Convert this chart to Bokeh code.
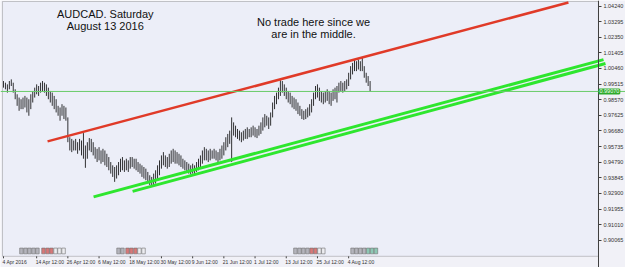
from bokeh.plotting import figure
from bokeh.models import (Range1d, FixedTicker, PrintfTickFormatter, Span, Label, LabelSet,
                          LinearAxis, BoxAnnotation, ColumnDataSource)
from bokeh.embed import file_html
from bokeh.resources import INLINE
from bokeh.core.properties import value

# H12 bars, AUDCAD 4 Apr 2016 - 12 Aug 2016
bar_high = [
    .997, .996, .995, .997, .998, .996, .992, .989, .987, .986,
    .987, .988, .987, .986, .989, .991, .993, .995, .994, .996,
    .997, .996, .995, .993, .991, .990, .988, .986, .982, .981,
    .983, .982, .981, .975, .963, .962, .961, .962, .960, .962,
    .961, .9655, .958, .960, .9625, .962, .960, .957, .956, .957,
    .955, .956, .955, .953, .951, .948, .946, .945, .946, .948,
    .950, .951, .949, .950, .949, .951, .951, .950, .950, .948,
    .947, .946, .945, .944, .942, .940, .939, .941, .943, .946,
    .949, .952, .954, .952, .951, .953, .955, .956, .955, .954,
    .953, .952, .950, .949, .948, .947, .946, .947, .946, .948,
    .950, .952, .955, .957, .956, .955, .956, .955, .956, .955,
    .954, .956, .958, .960, .963, .965, .967, .975, .972, .970,
    .968, .967, .966, .967, .968, .969, .968, .969, .970, .969,
    .968, .970, .972, .975, .977, .976, .975, .978, .984, .988,
    .990, .993, .9975, .997, .995, .993, .991, .990, .988, .987,
    .986, .984, .982, .980, .979, .980, .981, .983, .986, .990,
    .994, .995, .993, .991, .990, .991, .992, .991, .990, .992,
    .993, .994, .996, .997, .996, .997, .998, 1.002, 1.006, 1.008,
    1.010, 1.009, 1.010, 1.009, 1.011, 1.006, 1.002, 1.000, .997,
]
bar_low = [
    .993, .992, .990, .992, .994, .990, .986, .982, .979, .980,
    .980, .981, .978, .976, .980, .984, .987, .989, .988, .990,
    .991, .990, .988, .986, .984, .982, .980, .978, .976, .973,
    .976, .974, .973, .960, .955, .954, .955, .955, .953, .955,
    .952, .950, .9445, .950, .955, .954, .952, .950, .948, .949,
    .947, .948, .946, .945, .943, .941, .939, .936, .938, .940,
    .942, .943, .942, .943, .942, .944, .945, .944, .943, .942,
    .941, .939, .938, .937, .935, .934, .9335, .934, .935, .937,
    .940, .944, .946, .945, .944, .945, .947, .948, .947, .947,
    .946, .945, .944, .943, .942, .941, .9405, .941, .9405, .942,
    .943, .945, .947, .949, .949, .948, .949, .950, .950, .949,
    .948, .949, .950, .952, .955, .957, .959, .948, .964, .963,
    .962, .961, .960, .961, .962, .962, .963, .963, .964, .963,
    .9625, .964, .965, .967, .969, .970, .968, .970, .975, .980,
    .983, .986, .988, .990, .988, .986, .984, .983, .981, .980,
    .979, .977, .976, .974, .9735, .974, .975, .976, .978, .982,
    .986, .987, .985, .984, .983, .984, .985, .983, .982, .985,
    .986, .984, .990, .991, .990, .991, .992, .994, .998, 1.001,
    1.003, 1.003, 1.004, 1.003, 1.003, .999, .996, .994, .9907,
]
bar_index = list(range(len(bar_high)))

last_price = 0.99070
last_price_text = "0.99070"

y_tick_values = [1.04240, 1.03295, 1.02350, 1.01405, 1.00460, 0.99515, 0.98570,
                 0.97625, 0.96680, 0.95735, 0.94790, 0.93845, 0.92900, 0.91955,
                 0.91010, 0.90065]

x_tick_bars = [0, 17, 33, 49, 65, 81, 97, 113, 129, 145, 161, 177]
x_tick_labels = ["4 Apr 2016", "14 Apr 12:00", "26 Apr 12:00", "6 May 12:00",
                 "18 May 12:00", "30 May 12:00", "9 Jun 12:00", "21 Jun 12:00",
                 "1 Jul 12:00", "13 Jul 12:00", "25 Jul 12:00", "4 Aug 12:00"]

# trend lines (anchor points: bar index, price)
red_line_x = [22.6, 289.7]
red_line_y = [0.96048, 1.04452]
green_upper_x = [46.2, 307.7]
green_upper_y = [0.92692, 1.00995]
green_lower_x = [66.2, 308.7]
green_lower_y = [0.93025, 1.00764]

# event flags along the bottom
event_bars = [9.2, 11.3, 13.3, 15.4, 17.4, 20.5, 22.6, 24.6, 26.7, 28.7, 30.8,
              59, 61, 63.6, 65.6, 67.7, 69.7, 71.8,
              149.7, 151.8, 153.8, 155.9, 158, 160, 162, 164,
              179, 181, 183, 185, 187, 189, 191]
event_kind = ["g", "g", "g", "g", "g", "r", "r", "r", "w", "w", "w",
              "g", "g", "r", "r", "r", "w", "w",
              "g", "g", "g", "g", "r", "r", "w", "w",
              "g", "g", "g", "g", "t", "t", "t"]
kind_colors = {"g": "#b4b4bc", "r": "#d87878", "w": "#ececf0", "t": "#8cc8b4"}

# chart window: bar-index and price extents of the plotting area
win_left, win_right = -0.513, 305.1
win_bottom, win_top = 0.89095, 1.04512

p = figure(width=625, height=267, output_backend="svg", toolbar_location=None,
           x_range=Range1d(-1.538, 318.97), y_range=Range1d(0.88419, 1.04573),
           x_axis_location=None, y_axis_location=None,
           min_border_left=0, min_border_right=0, min_border_top=0, min_border_bottom=0)
p.background_fill_color = "#f1f1f7"
p.border_fill_color = "#f1f1f7"
p.outline_line_color = None
p.grid.visible = False

p.add_layout(BoxAnnotation(left=win_left, right=win_right, bottom=win_bottom, top=win_top,
                           fill_color="#eceef8", fill_alpha=1, line_color="#555555",
                           line_width=1, level="underlay"))

ax = LinearAxis(fixed_location=win_right, ticker=FixedTicker(ticks=y_tick_values),
                formatter=PrintfTickFormatter(format="%.5f"))
ax.axis_line_color = "#404040"
ax.major_tick_line_color = "#404040"
ax.major_tick_out = 3
ax.major_tick_in = 0
ax.minor_tick_line_color = None
ax.major_label_text_font = "Liberation Sans"
ax.major_label_text_font_size = "5.5px"
ax.major_label_text_color = "#333333"
ax.major_label_standoff = 2
p.add_layout(ax, "right")

# time ticks and labels (label text starts at its tick)
p.segment(x0=x_tick_bars, y0=[win_bottom] * len(x_tick_bars), x1=x_tick_bars,
          y1=[0.88975] * len(x_tick_bars), line_color="#404040", line_width=1)
src = ColumnDataSource(dict(x=x_tick_bars, text=x_tick_labels, y=[0.88782] * len(x_tick_bars)))
p.add_layout(LabelSet(x="x", y="y", text="text", source=src, text_align="left",
                      text_baseline="middle", x_offset=-1,
                      text_font=value("Liberation Sans"), text_font_size="5px",
                      text_color="#333333"))

# last price line
p.add_layout(Span(location=last_price, dimension="width", line_color="#6acb6a", line_width=1))

# bars
p.segment(x0=bar_index, y0=bar_low, x1=bar_index, y1=bar_high, line_color="#000000", line_width=0.8)

# trend lines
p.line(red_line_x, red_line_y, line_color="#e03a28", line_width=2.5)
p.line(green_upper_x, green_upper_y, line_color="#2ee62e", line_width=3)
p.line(green_lower_x, green_lower_y, line_color="#2ee62e", line_width=3)

# event flags
p.rect(x=event_bars, y=0.8942, width=1.8, height=0.0035,
       fill_color=[kind_colors[k] for k in event_kind], line_color="#707070", line_width=0.6)

# price tag
p.add_layout(Label(x=305.6, y=last_price, text=last_price_text, text_baseline="middle",
                   text_font="Liberation Sans", text_font_size="5.5px", text_color="#f4fff4",
                   background_fill_color="#2caa2c", border_line_color="#2caa2c",
                   border_line_width=2))

# annotations
for tx, ty, tt in [(52.2, 1.03768, "AUDCAD. Saturday"), (52.2, 1.0303, "August 13 2016"),
                   (159.0, 1.03302, "No trade here since we"), (159.0, 1.02546, "are in the middle.")]:
    p.add_layout(Label(x=tx, y=ty, text=tt, text_align="center", text_baseline="middle",
                       text_font="Liberation Sans", text_font_size="11px", text_color="#111111"))

open("out.html", "w").write(file_html(p, INLINE))
